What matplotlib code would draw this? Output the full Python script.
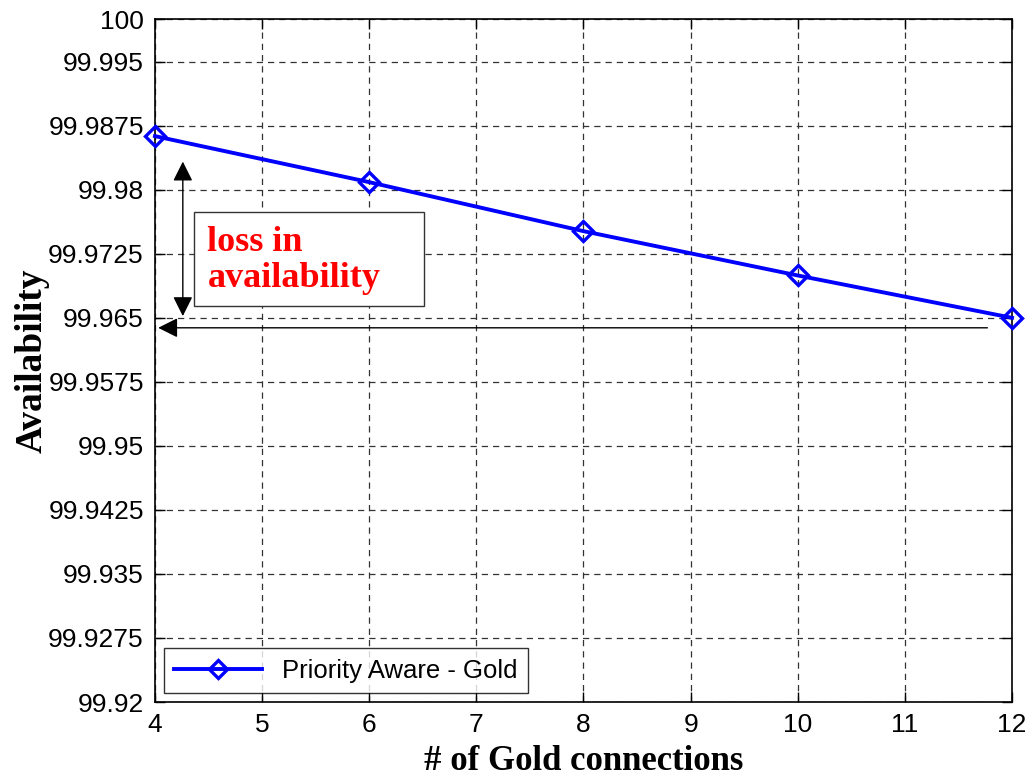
import matplotlib
matplotlib.use('Agg')
import matplotlib.pyplot as plt
from matplotlib.patches import Rectangle
import numpy as np

plt.rcParams.update({
    'font.family': ['Liberation Sans', 'DejaVu Sans'],
    'font.size': 18,
})

# Data
gold_connections = [4, 6, 8, 10, 12]
availability = [99.98628, 99.98089, 99.97515, 99.96996, 99.96500]
series_label = 'Priority Aware - Gold'
yticks = [99.92, 99.9275, 99.935, 99.9425, 99.95, 99.9575, 99.965,
          99.9725, 99.98, 99.9875, 99.995, 100]
ytick_labels = ['99.92', '99.9275', '99.935', '99.9425', '99.95', '99.9575',
                '99.965', '99.9725', '99.98', '99.9875', '99.995', '100']
xticks = [4, 5, 6, 7, 8, 9, 10, 11, 12]

fig = plt.figure(figsize=(10.29, 7.82), dpi=100)
ax = fig.add_axes([0.1506, 0.1023, 0.8329, 0.8734])

ax.plot(gold_connections, availability, '-', color='#0000FF', linewidth=2.8,
        marker='D', markersize=10, markerfacecolor='none', markeredgewidth=2.4,
        markeredgecolor='#0000FF', label=series_label, clip_on=False, zorder=5)

ax.set_xlim(4, 12)
ax.set_ylim(99.92, 100)
ax.set_xticks(xticks)
ax.set_yticks(yticks)
ax.set_yticklabels(ytick_labels)
ax.tick_params(direction='in', length=7, width=1, top=True, right=True,
               labelsize=19, pad=8)
ax.grid(True, linestyle=(0, (5, 4)), color='#333333', linewidth=0.9)
for s in ax.spines.values():
    s.set_linewidth(1.2)

ax.set_xlabel('# of Gold connections', family=['Liberation Serif'],
              fontweight='bold', fontsize=25, labelpad=6)
ax.set_ylabel('Availability', family=['Liberation Serif'],
              fontweight='bold', fontsize=27, labelpad=-1)

# loss annotation: horizontal reference line with left arrow
ref_level = 99.96383
ax.annotate('', xy=(4.03, ref_level), xytext=(11.77, ref_level),
            arrowprops=dict(arrowstyle='-|>', color='black', lw=1.0,
                            mutation_scale=30, shrinkA=0, shrinkB=0))
# vertical double arrow
ax.annotate('', xy=(4.26, 99.9833), xytext=(4.26, 99.9652),
            arrowprops=dict(arrowstyle='<|-|>', color='black', lw=1.0,
                            mutation_scale=30, shrinkA=0, shrinkB=0))

ax.add_patch(Rectangle((4.364, 99.96644), 2.148, 0.01094, fill=True,
                       facecolor='white', edgecolor='#333333', lw=1.0, zorder=3))
ax.text(4.49, 99.9717, 'loss in\navailability', color='red',
        family=['Liberation Serif'], fontweight='bold', fontsize=26,
        ha='left', va='center', linespacing=1.15, zorder=4)

leg = ax.legend(loc='lower left', fontsize=18.5, frameon=True, fancybox=False,
                edgecolor='black', borderaxespad=0.35, handlelength=3.4,
                borderpad=0.4, markerscale=0.9)
leg.get_frame().set_linewidth(1.0)

fig.savefig('out.png', dpi=100)
plt.close()
